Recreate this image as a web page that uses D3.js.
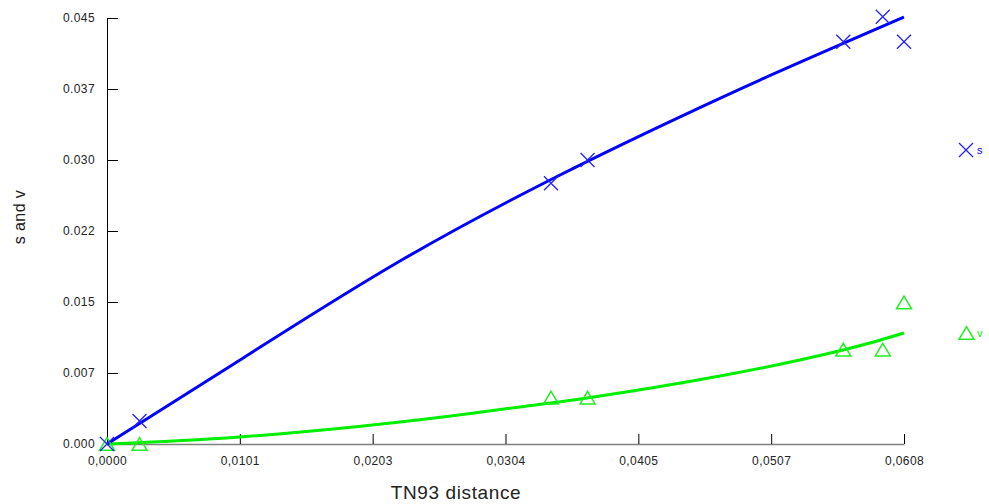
<!DOCTYPE html>
<html>
<head>
<meta charset="utf-8">
<script src="https://cdn.jsdelivr.net/npm/d3@7"></script>
<style>
	body { margin: 0; background: #fff; }
	text { font-family: Arial, "Liberation Sans", sans-serif; }
</style>
</head>
<body>
<div id="chart"></div>
<script>
// TN93 distance vs s and v

// observed points
const pointX = [0, 0.00248, 0.03387, 0.03666, 0.05617, 0.05918, 0.0608];
const sValues = [0, 0.00243, 0.02754, 0.0300, 0.0425, 0.04514, 0.0425];
const vValues = [0, 0, 0.0049, 0.0049, 0.00997, 0.00997, 0.01495];

// fitted curves
const sCurveX = [0, 0.01015, 0.02235, 0.0338, 0.04142, 0.04981, 0.0608];
const sCurveY = [0, 0.00888, 0.01933, 0.02789, 0.03306, 0.03845, 0.0451];
const vCurveX = [0, 0.01015, 0.02235, 0.03151, 0.03662, 0.04676, 0.05615, 0.0608];
const vCurveY = [0, 0.00074, 0.00232, 0.00391, 0.00486, 0.00718, 0.00993, 0.01173];

const xTicks = [0, 0.0608 / 6, 0.0608 * 2 / 6, 0.0608 * 3 / 6, 0.0608 * 4 / 6, 0.0608 * 5 / 6, 0.0608];
const xTickLabels = ["0,0000", "0,0101", "0,0203", "0,0304", "0,0405", "0,0507", "0,0608"];
const yTicks = [0, 0.0075, 0.015, 0.0225, 0.03, 0.0375, 0.045];
const yTickLabels = ["0.000", "0.007", "0.015", "0.022", "0.030", "0.037", "0.045"];

const width = 989;
const height = 504;
const plot_left = 107, plot_right = 904, plot_top = 18, plot_bottom = 444;

const blue = "#0000ff";
const green = "#00ee00";

const svg = d3.select("#chart").append("svg")
	.attr("width", width)
	.attr("height", height);

const x = d3.scaleLinear().domain([0, 0.0608]).range([plot_left, plot_right]);
const y = d3.scaleLinear().domain([0, 0.045]).range([plot_bottom, plot_top]);

// x axis
const xAxis = svg.append("g")
	.attr("transform", `translate(0,${plot_bottom})`)
	.call(d3.axisBottom(x)
		.tickValues(xTicks)
		.tickFormat((d, i) => xTickLabels[i])
		.tickSizeInner(-10)
		.tickSizeOuter(0)
		.tickPadding(12));
xAxis.select(".domain").attr("stroke", "#808080").attr("stroke-width", 1.5);
xAxis.selectAll(".tick line").attr("stroke", "#000");
xAxis.selectAll("text")
	.attr("font-size", 12)
	.attr("fill", "#222")
	.attr("letter-spacing", 0.4)
	.style("font-family", "Arial, 'Liberation Sans', sans-serif");

// y axis
const yAxis = svg.append("g")
	.attr("transform", `translate(${plot_left},0)`)
	.call(d3.axisLeft(y)
		.tickValues(yTicks)
		.tickFormat((d, i) => yTickLabels[i])
		.tickSizeInner(-11)
		.tickSizeOuter(0)
		.tickPadding(12));
yAxis.select(".domain").attr("stroke", "#000");
yAxis.selectAll("text")
	.attr("font-size", 12)
	.attr("fill", "#222")
	.attr("letter-spacing", 0.4)
	.style("font-family", "Arial, 'Liberation Sans', sans-serif");

// curves
const line = d3.line()
	.x(d => x(d[0]))
	.y(d => y(d[1]))
	.curve(d3.curveNatural);

svg.append("path")
	.datum(vCurveX.map((d, i) => [d, vCurveY[i]]))
	.attr("d", line)
	.attr("fill", "none")
	.attr("stroke", green)
	.attr("stroke-width", 3);

svg.append("path")
	.datum(sCurveX.map((d, i) => [d, sCurveY[i]]))
	.attr("d", line)
	.attr("fill", "none")
	.attr("stroke", blue)
	.attr("stroke-width", 3);

// markers
const crossPath = "M-7,-7L7,7M-7,7L7,-7";
const triPath = "M0,-6.3L7.5,6.3L-7.5,6.3Z";

svg.append("g").selectAll("path")
	.data(pointX.map((d, i) => [d, vValues[i]]))
	.join("path")
	.attr("transform", d => `translate(${x(d[0])},${y(d[1])})`)
	.attr("d", triPath)
	.attr("fill", "none")
	.attr("stroke", "#22ee22")
	.attr("stroke-width", 1.5);

svg.append("g").selectAll("path")
	.data(pointX.map((d, i) => [d, sValues[i]]))
	.join("path")
	.attr("transform", d => `translate(${x(d[0])},${y(d[1])})`)
	.attr("d", crossPath)
	.attr("fill", "none")
	.attr("stroke", "#2222ff")
	.attr("stroke-width", 1.3);

// legend
const legend = svg.append("g");
legend.append("path")
	.attr("transform", "translate(966,150)")
	.attr("d", crossPath)
	.attr("fill", "none")
	.attr("stroke", "#2222ff")
	.attr("stroke-width", 1.3);
legend.append("text")
	.attr("x", 977).attr("y", 154)
	.attr("font-size", 11)
	.attr("fill", blue)
	.text("s");
legend.append("path")
	.attr("transform", "translate(966.5,333)")
	.attr("d", triPath)
	.attr("fill", "none")
	.attr("stroke", "#22ee22")
	.attr("stroke-width", 1.5);
legend.append("text")
	.attr("x", 977).attr("y", 337)
	.attr("font-size", 11)
	.attr("fill", green)
	.text("v");

// axis titles
svg.append("text")
	.attr("x", 456).attr("y", 499)
	.attr("text-anchor", "middle")
	.attr("font-size", 19)
	.attr("letter-spacing", 0.6)
	.attr("fill", "#222")
	.text("TN93 distance");

svg.append("text")
	.attr("transform", "translate(25,217) rotate(-90)")
	.attr("text-anchor", "middle")
	.attr("font-size", 16)
	.attr("letter-spacing", 0.4)
	.attr("fill", "#222")
	.text("s and v");
</script>
</body>
</html>
